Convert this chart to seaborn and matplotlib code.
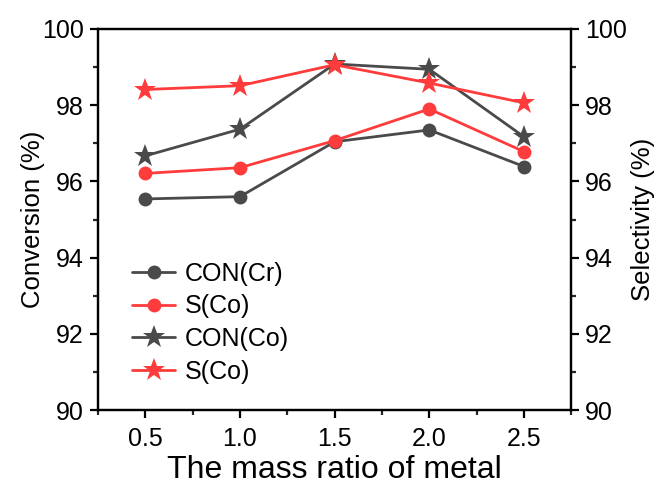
import matplotlib
matplotlib.use("Agg")
import matplotlib.pyplot as plt
from matplotlib.ticker import MultipleLocator
from matplotlib.lines import Line2D
import seaborn as sns
import pandas as pd

sns.set_style("ticks")
plt.rcParams["font.family"] = ["Liberation Sans", "DejaVu Sans"]
plt.rcParams["text.color"] = "black"
plt.rcParams["axes.labelcolor"] = "black"

ratio = [0.5, 1.0, 1.5, 2.0, 2.5]
con_cr = [95.54, 95.60, 97.04, 97.35, 96.39]
sel_co_circle = [96.21, 96.36, 97.07, 97.90, 96.78]
con_co = [96.67, 97.37, 99.08, 98.94, 97.17]
sel_co_star = [98.41, 98.51, 99.06, 98.58, 98.06]

gray = "#4a4a4a"
red = "#ff3b3b"

df = pd.DataFrame({
    "ratio": ratio,
    "con_cr": con_cr,
    "sel_circle": sel_co_circle,
    "con_co": con_co,
    "sel_star": sel_co_star,
})

fig = plt.figure(figsize=(6.62, 4.9), dpi=100)
ax = fig.add_axes([0.148, 0.163, 0.715, 0.778])
ax2 = ax.twinx()

lw = 2.0
ms_c, ms_s = 10, 17
sns.lineplot(data=df, x="ratio", y="con_cr", ax=ax, color=gray, lw=lw,
             marker="o", markersize=ms_c, markeredgewidth=0, zorder=3)
sns.lineplot(data=df, x="ratio", y="con_co", ax=ax, color=gray, lw=lw,
             marker="*", markersize=ms_s, markeredgewidth=0, zorder=3)
sns.lineplot(data=df, x="ratio", y="sel_circle", ax=ax2, color=red, lw=lw,
             marker="o", markersize=ms_c, markeredgewidth=0, zorder=3)
sns.lineplot(data=df, x="ratio", y="sel_star", ax=ax2, color=red, lw=lw,
             marker="*", markersize=ms_s, markeredgewidth=0, zorder=3)

for a in (ax, ax2):
    a.set_ylim(90, 100)
    a.yaxis.set_major_locator(MultipleLocator(2))
    a.yaxis.set_minor_locator(MultipleLocator(1))
    for s in a.spines.values():
        s.set_linewidth(1.6)
        s.set_color("black")
    a.tick_params(axis="both", which="major", direction="out", length=6,
                  width=1.6, labelsize=18, colors="black", pad=4)
    a.tick_params(axis="both", which="minor", direction="out", length=3.5,
                  width=1.6)

ax.set_xlim(0.25, 2.75)
ax.xaxis.set_major_locator(MultipleLocator(0.5))
ax.xaxis.set_minor_locator(MultipleLocator(0.25))
ax.set_xticks(ratio)
ax.set_xticklabels([f"{v:.1f}" for v in ratio])
ax.tick_params(axis="x", which="major", pad=6)

ax.set_xlabel("The mass ratio of metal", fontsize=23, labelpad=3, color="black")
ax.set_ylabel("Conversion (%)", fontsize=18.5, labelpad=-2, color="black")
ax2.set_ylabel("Selectivity (%)", fontsize=18.5, labelpad=3, color="black")

handles = [
    Line2D([], [], color=gray, lw=lw, marker="o", markersize=ms_c, markeredgewidth=0),
    Line2D([], [], color=red, lw=lw, marker="o", markersize=ms_c, markeredgewidth=0),
    Line2D([], [], color=gray, lw=lw, marker="*", markersize=ms_s, markeredgewidth=0),
    Line2D([], [], color=red, lw=lw, marker="*", markersize=ms_s, markeredgewidth=0),
]
labels = ["CON(Cr)", "S(Co)", "CON(Co)", "S(Co)"]
leg = ax2.legend(handles, labels, loc="lower left", bbox_to_anchor=(0.025, 0.01),
                 frameon=False, fontsize=18, handlelength=1.7, labelspacing=0.35,
                 handletextpad=0.4)
for t in leg.get_texts():
    t.set_color("black")

fig.savefig("out.png", dpi=100)
